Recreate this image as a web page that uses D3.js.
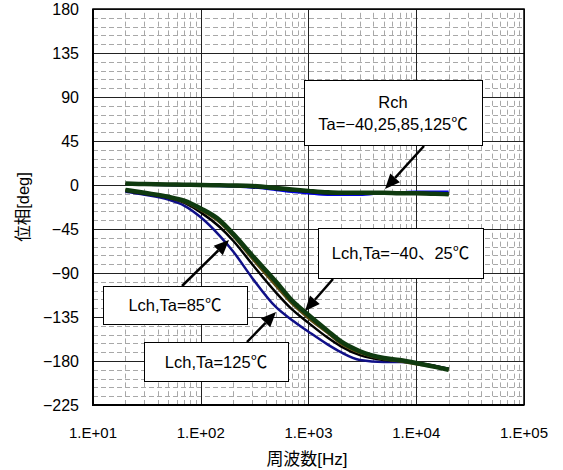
<!DOCTYPE html>
<html>
<head>
<meta charset="utf-8">
<script src="https://cdn.jsdelivr.net/npm/d3@7"></script>
<style>
  body { margin: 0; background: #fff; }
  svg { display: block; font-family: "Liberation Sans", "Noto Sans CJK JP", sans-serif; }
</style>
</head>
<body>
<svg id="chart" width="563" height="470"></svg>
<script>
// frequency points [Hz]
const freqs = [20, 30, 50, 70, 100, 150, 200, 300, 500, 700, 1000, 1500, 2000, 3000, 5000, 7000, 10000, 15000, 20000];

// Lch phase [deg]
const lchM40 = [-5, -8, -12, -16, -24, -36, -50, -72, -99, -118, -133, -149, -160, -170, -177, -179, -182, -186, -189];
const lch25  = [-5, -8, -12.5, -17, -25.5, -38, -52, -75, -103, -121, -136, -151, -162, -171.5, -178, -180, -183, -186, -189];
const lch85  = [-6, -9, -13, -18, -28, -43, -57, -81, -110, -127, -141, -156, -165, -174, -179, -180, -182, -185, -188];
const lch125 = [-7, -10, -15, -21, -33, -52, -68, -95, -125, -138, -150, -163, -171, -179, -181, -181, -182, -185, -188];

// Rch phase [deg]
const rchM40 = [1.5, 1, 0.5, 0.3, 0, -0.3, -0.5, -1, -3, -4.5, -6, -7.5, -8, -8, -8, -8.5, -8.5, -9, -9.5];
const rch25  = [1, 0.7, 0.3, 0, -0.2, -0.5, -1, -1.5, -3.5, -5, -6.5, -8, -8.5, -8.5, -8.5, -8.5, -9, -9.5, -10];
const rch85  = [0.5, 0.3, 0, -0.3, -0.5, -0.8, -1, -2, -4, -5.5, -7, -8.5, -9, -9, -8.5, -8, -8, -8.5, -9];
const rch125 = [0.5, 0.3, 0, -0.3, -0.5, -1, -1.5, -2.5, -5, -7, -8.5, -10, -10, -10, -8, -7.5, -7, -7, -7];

// axis ticks
const xTicks = [1e1, 1e2, 1e3, 1e4, 1e5];
const xTickLabels = ["1.E+01", "1.E+02", "1.E+03", "1.E+04", "1.E+05"];
const yTicks = [180, 135, 90, 45, 0, -45, -90, -135, -180, -225];

const svg = d3.select("#chart");
const plotL = 93, plotR = 524, plotT = 9, plotB = 405;

const x = d3.scaleLog().domain([10, 1e5]).range([plotL, plotR]);
const y = d3.scaleLinear().domain([-225, 180]).range([plotB, plotT]);

svg.append("rect").attr("width", 563).attr("height", 470).attr("fill", "#fff");

// minor grid
const minorX = [];
[10, 100, 1000, 10000].forEach(d => { for (let k = 2; k <= 9; k++) minorX.push(d * k); });
const minorY = d3.range(-225, 180, 9).filter(v => v % 45 !== 0);

svg.append("g").selectAll("line").data(minorY).join("line")
  .attr("x1", plotL).attr("x2", plotR)
  .attr("y1", d => Math.round(y(d)) + 0.5).attr("y2", d => Math.round(y(d)) + 0.5)
  .attr("stroke", "#a8a8a8").attr("stroke-width", 1)
  .attr("stroke-dasharray", "5,3");

svg.append("g").selectAll("line").data(minorX).join("line")
  .attr("x1", d => Math.round(x(d)) + 0.5).attr("x2", d => Math.round(x(d)) + 0.5)
  .attr("y1", plotB).attr("y2", plotT)
  .attr("stroke", "#a8a8a8").attr("stroke-width", 1)
  .attr("stroke-dasharray", "5,3.8");

// major grid
svg.append("g").selectAll("line").data(yTicks).join("line")
  .attr("x1", plotL).attr("x2", plotR)
  .attr("y1", d => Math.round(y(d)) + 0.5).attr("y2", d => Math.round(y(d)) + 0.5)
  .attr("stroke", "#222").attr("stroke-width", 1);

svg.append("g").selectAll("line").data(xTicks).join("line")
  .attr("x1", d => Math.round(x(d)) + 0.5).attr("x2", d => Math.round(x(d)) + 0.5)
  .attr("y1", plotB).attr("y2", plotT)
  .attr("stroke", "#222").attr("stroke-width", 1);

// plot border
svg.append("rect")
  .attr("x", plotL).attr("y", plotT)
  .attr("width", plotR - plotL).attr("height", plotB - plotT)
  .attr("fill", "none").attr("stroke", "#000").attr("stroke-width", 1.5);
svg.append("line").attr("x1", plotL).attr("x2", plotL).attr("y1", plotT).attr("y2", plotB + 1)
  .attr("stroke", "#000").attr("stroke-width", 2);
svg.append("line").attr("x1", plotL - 1).attr("x2", plotR).attr("y1", plotB).attr("y2", plotB)
  .attr("stroke", "#000").attr("stroke-width", 2);

// series
const line = d3.line().x(d => x(d[0])).y(d => y(d[1])).curve(d3.curveMonotoneX);
const series = [
  { v: rch125, color: "#0000e0", w: 2.5 },
  { v: rch85, color: "#000000", w: 2.5 },
  { v: rch25, color: "#5a4a10", w: 2.5 },
  { v: rchM40, color: "#0f3a0f", w: 4.5 },
  { v: lch125, color: "#101088", w: 2.5 },
  { v: lch85, color: "#000000", w: 2.5 },
  { v: lch25, color: "#5a4a10", w: 3 },
  { v: lchM40, color: "#0f3a0f", w: 4.5 }
];
svg.append("g").selectAll("path").data(series).join("path")
  .attr("d", s => line(freqs.map((f, i) => [f, s.v[i]])))
  .attr("fill", "none")
  .attr("stroke", s => s.color)
  .attr("stroke-width", s => s.w)
  .attr("stroke-linejoin", "round");

// tick labels
svg.append("g").selectAll("text").data(yTicks).join("text")
  .attr("x", 79).attr("y", d => y(d) + 5.5)
  .attr("text-anchor", "end").attr("font-size", 16).attr("fill", "#000")
  .text(d => String(d).replace("-", "\u2212"));

svg.append("g").selectAll("text").data(xTicks).join("text")
  .attr("x", d => x(d)).attr("y", 438)
  .attr("text-anchor", "middle").attr("font-size", 15).attr("fill", "#000")
  .text((d, i) => xTickLabels[i]);

// axis titles
svg.append("text").attr("x", 307).attr("y", 465)
  .attr("text-anchor", "middle").attr("font-size", 17).text("周波数[Hz]");
svg.append("text").attr("transform", "translate(29,207) rotate(-90)")
  .attr("text-anchor", "middle").attr("font-size", 16.5).text("位相[deg]");

// annotations (pixel layout)
const notes = [
  { box: [304, 80, 178, 65], lines: ["Rch", "Ta=\u221240,25,85,125℃"], from: [424, 146], to: [385, 189] },
  { box: [318, 228, 165, 50], lines: ["Lch,Ta=\u221240、25℃"], from: [333, 279], to: [305, 311] },
  { box: [103, 286, 144, 38], lines: ["Lch,Ta=85℃"], from: [182, 286], to: [229, 240] },
  { box: [144, 342, 144, 39], lines: ["Lch,Ta=125℃"], from: [247, 342], to: [276, 312] }
];

notes.forEach(n => {
  const [bx, by, bw, bh] = n.box;
  svg.append("rect").attr("x", bx + 0.5).attr("y", by + 0.5).attr("width", bw).attr("height", bh)
    .attr("fill", "#fff").attr("stroke", "#000").attr("stroke-width", 1);
  const lh = 22;
  const y0 = by + bh / 2 - (n.lines.length - 1) * lh / 2 + 6;
  n.lines.forEach((t, i) => {
    svg.append("text").attr("x", bx + bw / 2).attr("y", y0 + i * lh)
      .attr("text-anchor", "middle").attr("font-size", 16.5).text(t);
  });
  // arrow
  const [x1, y1] = n.from, [x2, y2] = n.to;
  const ang = Math.atan2(y2 - y1, x2 - x1);
  const L = 15, W = 6.5;
  const bxp = x2 - L * Math.cos(ang), byp = y2 - L * Math.sin(ang);
  svg.append("line").attr("x1", x1).attr("y1", y1).attr("x2", bxp).attr("y2", byp)
    .attr("stroke", "#000").attr("stroke-width", 2.5);
  svg.append("path")
    .attr("d", `M${x2},${y2}L${bxp + W * Math.sin(ang)},${byp - W * Math.cos(ang)}L${bxp - W * Math.sin(ang)},${byp + W * Math.cos(ang)}Z`)
    .attr("fill", "#000");
});
</script>
</body>
</html>
